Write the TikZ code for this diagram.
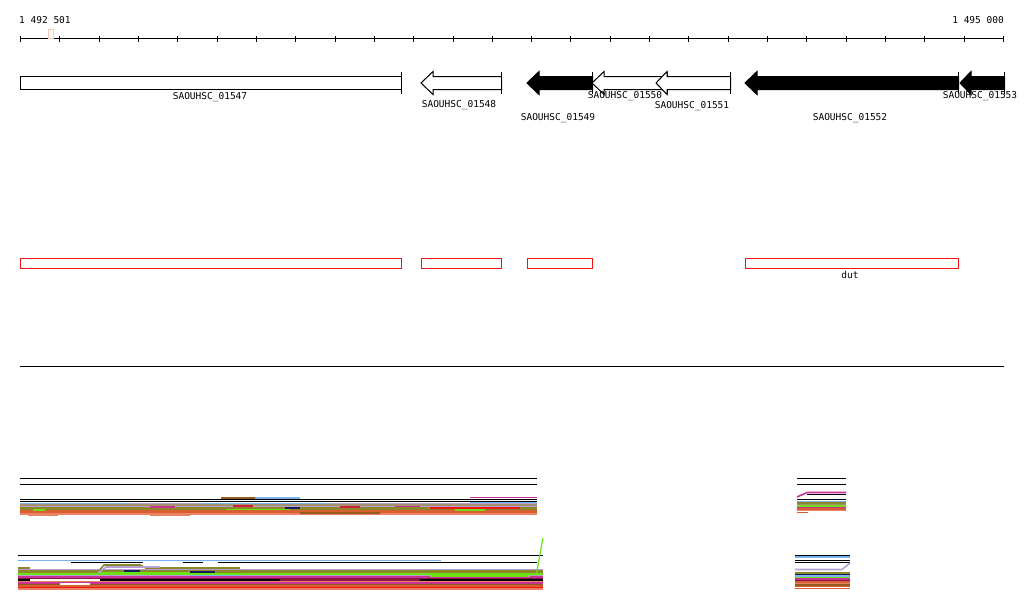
\documentclass[tikz,border=0pt]{standalone}
\usepackage{fontspec}
\setmonofont{DejaVu Sans Mono}
\usepackage{tikz}
\usetikzlibrary{positioning}
\usepackage{xcolor}
\definecolor{tkpeach}{RGB}{250,200,180}
\definecolor{tkred}{RGB}{240,20,20}
\definecolor{tkblue}{RGB}{120,180,240}
\definecolor{tklav}{RGB}{180,160,210}
\definecolor{tkolive}{RGB}{140,135,40}
\definecolor{tkgrey}{RGB}{165,145,110}
\definecolor{tkorange}{RGB}{215,95,50}
\definecolor{tksalmon}{RGB}{235,130,100}
\definecolor{tkbrown}{RGB}{150,90,30}
\definecolor{tkgreen}{RGB}{110,225,20}
\definecolor{tkmag}{RGB}{200,50,150}
\definecolor{tkmaroon}{RGB}{140,20,70}
\definecolor{tknavy}{RGB}{20,30,90}
\definecolor{tkcrim}{RGB}{210,30,60}
\tikzstyle{genelabel} = [font=\ttfamily\fontsize{9.5}{10}\selectfont, inner sep=0pt]
\tikzstyle{gene} = [draw=black, line width=1pt]
\tikzstyle{hit} = [draw=tkred, line width=1pt]
\tikzstyle{trace} = [line width=1.6pt]
\tikzstyle{rule} = [line width=1pt]

\begin{document}
\begin{tikzpicture}[x=1pt, y=-1pt]
\useasboundingbox (0,0) rectangle (1024,611);
% ruler
\draw[rule] (20,38.5) -- (1004,38.5);
\foreach \i in {0,...,25}
  \draw[rule] ({20.5+round(\i*39.32)},35.5) -- ({20.5+round(\i*39.32)},41.5);
\draw[tkpeach] (48.5,29.5) rectangle (53.5,38.5);
\node[genelabel, anchor=west] (start) at (19,20) {1 492 501};
\node[genelabel, anchor=east] (stop) at (1004,20) {1 495 000};
% genes
\draw[gene] (20.5,76.5) rectangle (401.5,89.5);
\draw[gene] (401.5,71.5) -- (401.5,93.5);
\foreach \tip/\base/\tail/\col in {421/433/501/white, 527/539/592/black, 592/604/667/white, 656/667/730/white, 745/757/958/black, 960/971/1004/black} {
  \filldraw[gene, fill=\col] (\tip,83) -- (\base,71.5) -- (\base,76.5) -- (\tail+.5,76.5) -- (\tail+.5,89.5) -- (\base,89.5) -- (\base,94.5) -- cycle;
  \draw[gene] (\tail+.5,72) -- (\tail+.5,93.5);
}
\node[genelabel] (g1547) at (210,97) {SAOUHSC\_01547};
\node[genelabel] (g1548) at (459,105) {SAOUHSC\_01548};
\node[genelabel] (g1549) at (558,118) {SAOUHSC\_01549};
\node[genelabel] (g1550) at (625,96.5) {SAOUHSC\_01550};
\node[genelabel] (g1551) at (692,106.5) {SAOUHSC\_01551};
\node[genelabel] (g1552) at (850,118.5) {SAOUHSC\_01552};
\node[genelabel] (g1553) at (980,96.5) {SAOUHSC\_01553};
% hits
\foreach \a/\b in {20/401, 421/501, 527/592, 745/958}
  \draw[hit] (\a+.5,258.5) rectangle (\b+.5,268.5);
\node[genelabel] (dut) at (850,275) {dut};
\draw[rule] (20,366.5) -- (1004,366.5);
% track 1
\foreach \a/\b in {20/537, 797/846} {
  \draw[rule] (\a,478.5) -- (\b,478.5);
  \draw[rule] (\a,484.5) -- (\b,484.5);
  \draw[rule] (\a,499.5) -- (\b,499.5);
}
\draw[rule] (20,501.5) -- (537,501.5);
\foreach \y/\col in {503.5/tklav, 505/tkgrey, 506.5/tklav, 508/tkolive, 509.5/tkolive, 511/tkorange, 512.5/tkorange, 514/tksalmon}
  \draw[trace, \col] (20,\y) -- (537,\y);
\draw[trace, tkblue] (20,503.5) -- (130,503.5);
\draw[trace, tkblue] (200,503.5) -- (330,503.5);
\draw[trace, tkblue] (470,502.5) -- (537,502.5);
\draw[trace, tkgrey] (300,504.5) -- (420,504.5);
\draw[trace, tkmag] (150,507) -- (175,507);
\draw[trace, tkmag] (395,506.5) -- (420,506.5);
\draw[trace, tkcrim] (233,506) -- (253,506);
\draw[trace, tkcrim] (340,507) -- (360,507);
\draw[trace, tkgreen] (33,510) -- (45,510);
\draw[trace, tkgreen] (226,509.5) -- (290,509.5);
\draw[trace, tkgreen] (455,510) -- (485,510);
\draw[trace, tkred] (430,508) -- (520,508);
\draw[trace, tknavy] (285,508) -- (300,508);
\draw[trace, tkbrown] (300,513) -- (380,513);
\draw[trace, tksalmon] (28,515.5) -- (58,515.5);
\draw[trace, tksalmon] (150,515.5) -- (190,515.5);
\draw[trace, tkmag] (470,497.5) -- (537,497.5);
\draw[trace, tkbrown] (221,498) -- (255,498);
\draw[trace, tkblue] (255,498) -- (300,498);
\foreach \y/\col in {501.5/tkblue, 503/tkolive, 504.5/tkgrey, 506/tkgreen, 507.5/tkmag, 509/tkorange, 510.5/tksalmon}
  \draw[trace, \col] (797,\y) -- (846,\y);
\draw[trace, tkorange] (797,512.5) -- (808,512.5);
\draw[trace, tkmag] (797,497) -- (807,492.5) -- (846,492.5);
\draw[rule] (807,494.5) -- (846,494.5);
% track 2
\foreach \a/\b in {18/543, 795/850}
  \draw[rule] (\a,555.5) -- (\b,555.5);
\draw[trace, tkblue] (18,560.5) -- (441,560.5);
\foreach \a/\b in {71/143, 183/203, 218/537}
  \draw[rule] (\a,562.5) -- (\b,562.5);
\foreach \y/\col in {569.5/tklav, 571/tkolive, 572.5/tkolive, 574/tkgreen, 575.5/tklav, 577/tkmag, 578.5/tkmaroon, 580/black, 581.5/tksalmon, 583/tkmag, 584.5/tkbrown, 586/tkorange, 587.5/tkred, 589/tksalmon}
  \draw[trace, \col] (18,\y) -- (543,\y);
\draw[trace, tkolive] (18,568) -- (30,568);
\draw[trace, tkolive] (98,572) -- (104,565) -- (140,565) -- (146,568) -- (240,568);
\draw[trace, tklav] (98,573) -- (106,567) -- (160,567);
\draw[trace, tkgreen] (100,573) -- (200,573);
\draw[trace, tknavy] (124,571) -- (140,571);
\draw[trace, tknavy] (190,572) -- (215,572);
\draw[trace, white] (30,580) -- (100,580);
\draw[trace, tkmaroon] (280,580) -- (420,580);
\draw[trace, white] (60,584) -- (90,584);
\draw[trace, tkgreen] (430,576) -- (530,576);
\draw[trace, tkblue] (190,575.5) -- (240,575.5);
\draw[line width=1.2pt, tkgreen] (536,576) -- (543,538);
\draw[trace, tkblue] (795,557) -- (850,557);
\draw[rule] (795,560.5) -- (850,560.5);
\draw[rule] (795,562.5) -- (850,562.5);
\draw[trace, tklav] (795,569.5) -- (842,569.5) -- (850,563);
\foreach \y/\col in {573/tkolive, 574.5/tknavy, 576/tkblue, 577.5/tkgreen, 579/tkmag, 580.5/tkmaroon, 582/tkorange, 583.5/tksalmon, 585/tkbrown, 586.5/tkorange, 588.5/tkorange}
  \draw[trace, \col] (795,\y) -- (850,\y);
\end{tikzpicture}
\end{document}
